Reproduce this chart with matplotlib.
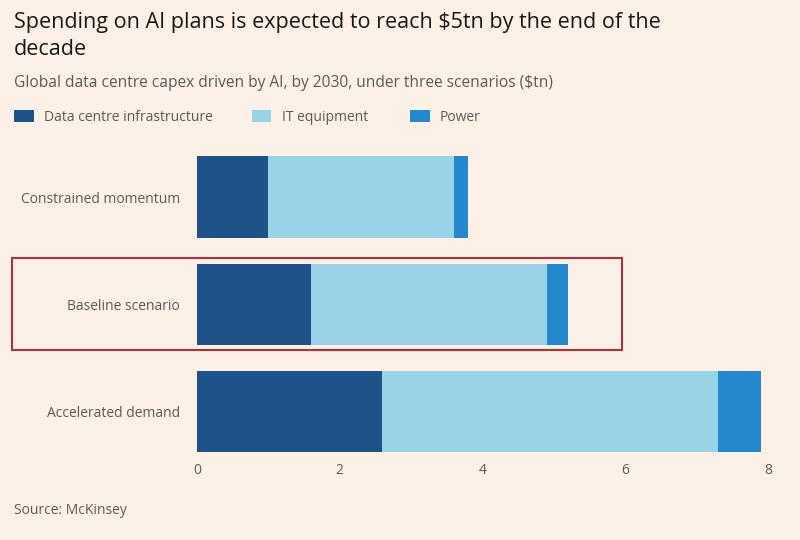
import matplotlib
matplotlib.use("Agg")
import matplotlib.pyplot as plt
from matplotlib.patches import Rectangle

categories = ["Constrained momentum", "Baseline scenario", "Accelerated demand"]
series_names = ["Data centre infrastructure", "IT equipment", "Power"]
infra = [1.0, 1.6, 2.6]
it_equipment = [2.6, 3.3, 4.7]
power = [0.2, 0.3, 0.6]
xticks = [0, 2, 4, 6, 8]

colors = ["#1F5289", "#9AD2E8", "#2389CC"]
bg = "#FDF0E7"
text_grey = "#5E5955"

plt.rcParams['font.family'] = ['Open Sans', 'DejaVu Sans']

fig = plt.figure(figsize=(8, 5.4), dpi=100, facecolor=bg)
ax = fig.add_axes([0.246, 0.163, 0.723, 0.581])
ax.set_facecolor(bg)

ypos = list(range(len(categories)))
left = [0.0] * len(categories)
for vals, col in zip([infra, it_equipment, power], colors):
    ax.barh(ypos, vals, left=left, height=0.76, color=col, linewidth=0)
    left = [l + v for l, v in zip(left, vals)]

ax.set_xlim(0, 8.1)
ax.set_ylim(2.38, -0.55)
ax.set_xticks(xticks)
ax.set_xticklabels([str(t) for t in xticks])
ax.set_yticks(ypos)
ax.set_yticklabels(categories)
ax.tick_params(axis='both', length=0, colors=text_grey, labelsize=10)
ax.tick_params(axis='y', pad=12)
ax.tick_params(axis='x', pad=8)
for s in ax.spines.values():
    s.set_visible(False)

# Title / subtitle
fig.text(0.017, 0.948, "Spending on AI plans is expected to reach $5tn by the end of the",
         fontsize=15.5, color="#1A1817", va='baseline', ha='left')
fig.text(0.017, 0.898, "decade",
         fontsize=15.5, color="#1A1817", va='baseline', ha='left')
fig.text(0.017, 0.839, "Global data centre capex driven by AI, by 2030, under three scenarios ($tn)",
         fontsize=11.2, color=text_grey, va='baseline', ha='left')

# Legend
leg_x = [0.018, 0.315, 0.513]
for x0, name, col in zip(leg_x, series_names, colors):
    fig.patches.append(Rectangle((x0, 0.775), 0.024, 0.022, transform=fig.transFigure,
                                 facecolor=col, edgecolor='none'))
    fig.text(x0 + 0.037, 0.782, name, fontsize=10, color=text_grey, va='center', ha='left')

# Highlight box
fig.patches.append(Rectangle((0.015, 0.352), 0.762, 0.170, transform=fig.transFigure,
                             facecolor='none', edgecolor="#A8353A", linewidth=1.5))

fig.text(0.017, 0.055, "Source: McKinsey", fontsize=10, color=text_grey, va='center', ha='left')

fig.savefig("out.png", dpi=100, facecolor=bg)
